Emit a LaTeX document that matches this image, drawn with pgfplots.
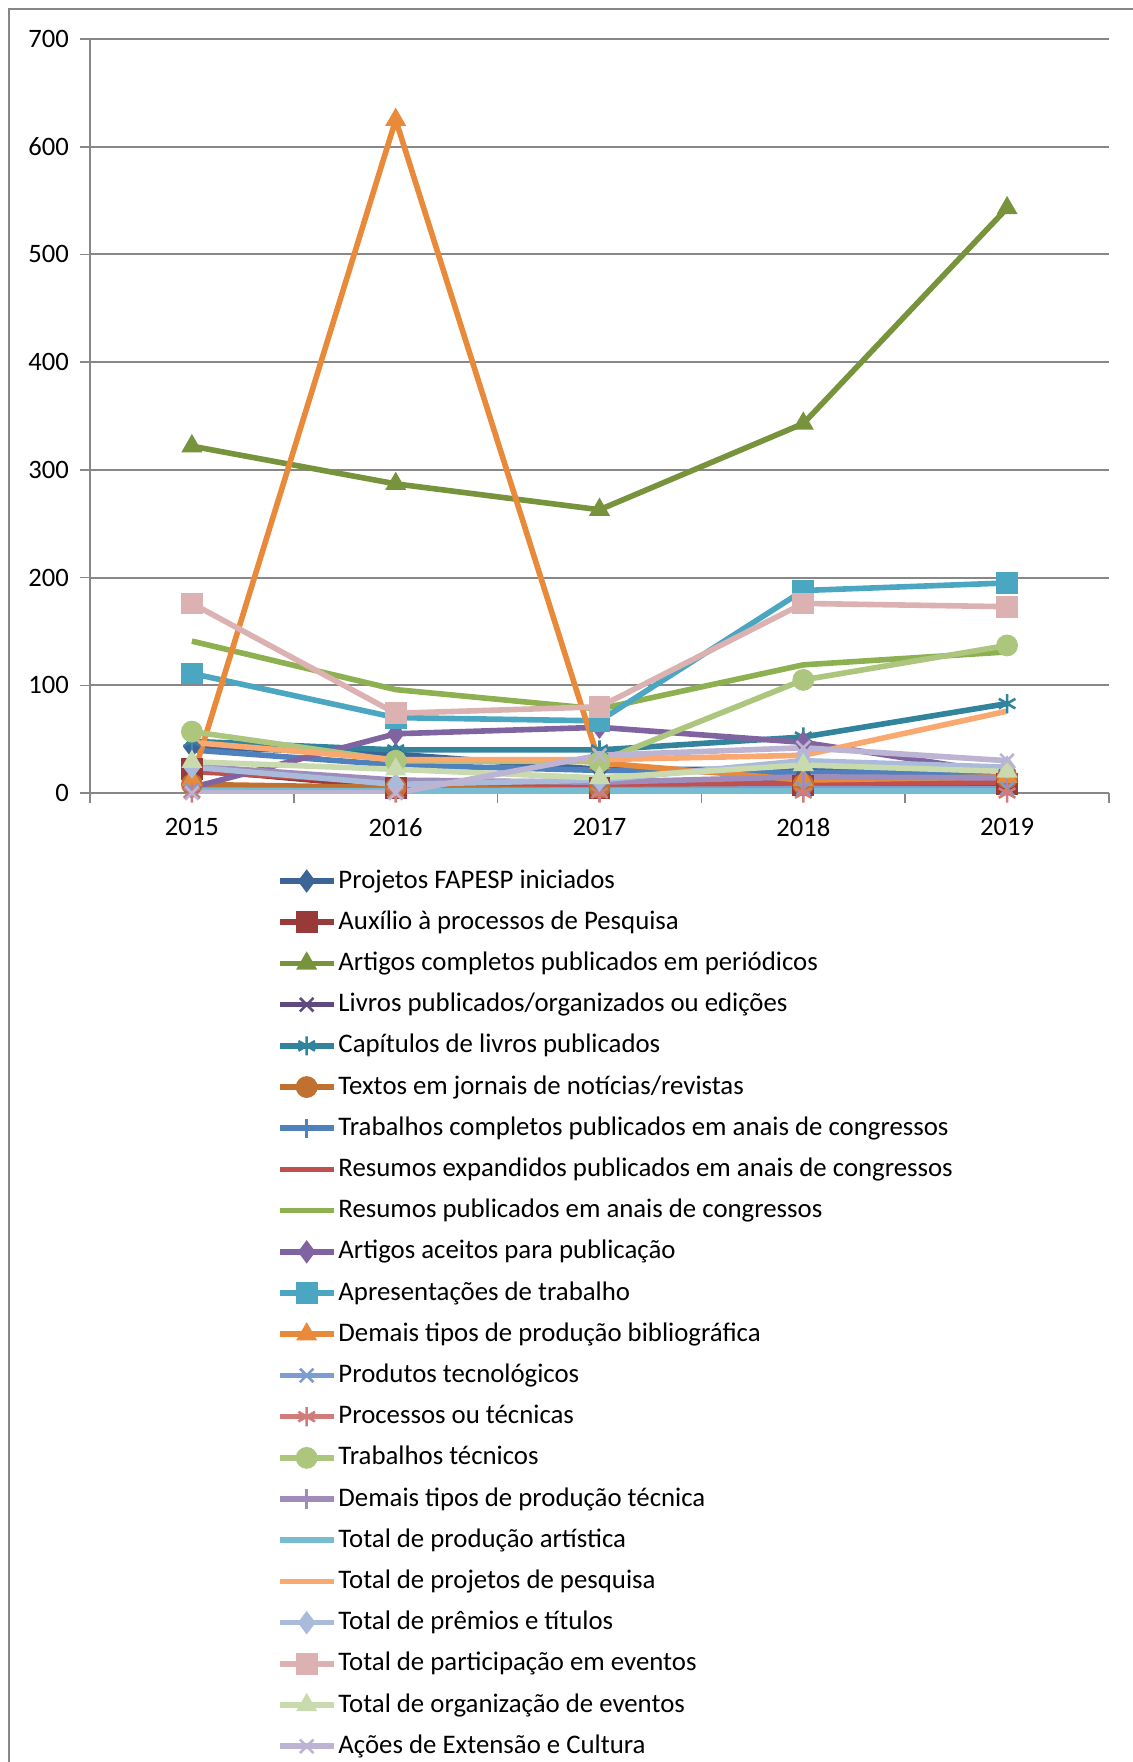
\documentclass[border=0pt]{standalone}
\usepackage{pgfplots}
\pgfplotsset{compat=1.18}
\usepackage{fontspec}
\setmainfont{Carlito}

% Excel 2007 palette, dark / normal / light variants
\definecolor{c1}{HTML}{3C6497}
\definecolor{c2}{HTML}{983A37}
\definecolor{c3}{HTML}{77933C}
\definecolor{c4}{HTML}{5F4A7F}
\definecolor{c5}{HTML}{31849B}
\definecolor{c6}{HTML}{C0712F}
\definecolor{c7}{HTML}{4F81BD}
\definecolor{c8}{HTML}{C0504D}
\definecolor{c9}{HTML}{8DB050}
\definecolor{c10}{HTML}{8064A2}
\definecolor{c11}{HTML}{4BA6C2}
\definecolor{c12}{HTML}{E98A3A}
\definecolor{c13}{HTML}{7B9DD0}
\definecolor{c14}{HTML}{D07C7A}
\definecolor{c15}{HTML}{ADC67E}
\definecolor{c16}{HTML}{9E8CBA}
\definecolor{c17}{HTML}{78BCD2}
\definecolor{c18}{HTML}{F9A870}
\definecolor{c19}{HTML}{A9BADB}
\definecolor{c20}{HTML}{DBB2B1}
\definecolor{c21}{HTML}{C9DAAE}
\definecolor{c22}{HTML}{BDB3D2}
\definecolor{gridgray}{HTML}{878787}

\begin{document}
\begin{tikzpicture}
\begin{axis}[
    scale only axis,
    width=509.5pt, height=377pt,
    xmin=2014.5, xmax=2019.5,
    ymin=0, ymax=700,
    xtick={2015,2016,2017,2018,2019},
    xticklabels={2015,2016,2017,2018,2019},
    minor xtick={2014.5,2015.5,2016.5,2017.5,2018.5,2019.5},
    ytick={0,100,...,700},
    major x tick style={draw=none},
    minor tick length=5pt,
    major tick length=5pt,
    tick align=outside,
    tick style={gridgray, line width=0.8pt},
    axis lines*=left,
    axis line style={gridgray, line width=0.8pt, -},
    ymajorgrids,
    grid style={gridgray, line width=1pt},
    ticklabel style={font=\fontsize{13.3}{16}\selectfont},
    /pgf/number format/assume math mode=true,
    yticklabel style={xshift=-2pt},
    xticklabel style={yshift=-4pt},
    every axis plot/.append style={line width=2.8pt, mark size=4.8pt,
        mark options={solid, line width=1.3pt}},
    legend cell align=left,
    legend style={at={(0.1830,-0.099)}, anchor=north west, draw=none,
        fill=none, inner sep=0pt, row sep=7.6pt,
        font=\fontsize{13.4}{16}\selectfont,
        nodes={inner sep=0pt, inner xsep=1pt, text height=10pt, text depth=3pt}},
    legend image code/.code={
        \draw[mark repeat=2, mark phase=2] plot coordinates {(0pt,0pt) (13.5pt,0pt) (27pt,0pt)};
    },
]
\addplot[c1, mark=diamond*] coordinates {(2015,43) (2016,36) (2017,22) (2018,22) (2019,21)};
\addlegendentry{Projetos FAPESP iniciados}
\addplot[c2, mark=square*] coordinates {(2015,22) (2016,5) (2017,5) (2018,7) (2019,8)};
\addlegendentry{Auxílio à processos de Pesquisa}
\addplot[c3, mark=triangle*] coordinates {(2015,322) (2016,287) (2017,263) (2018,343) (2019,543)};
\addlegendentry{Artigos completos publicados em periódicos}
\addplot[c4, mark=x] coordinates {(2015,2) (2016,3) (2017,7) (2018,12) (2019,14)};
\addlegendentry{Livros publicados/organizados ou edições}
\addplot[c5, mark=asterisk] coordinates {(2015,48) (2016,40) (2017,40) (2018,52) (2019,83)};
\addlegendentry{Capítulos de livros publicados}
\addplot[c6, mark=*] coordinates {(2015,8) (2016,5) (2017,5) (2018,8) (2019,14)};
\addlegendentry{Textos em jornais de notícias/revistas}
\addplot[c7, mark=|] coordinates {(2015,40) (2016,26) (2017,21) (2018,19) (2019,19)};
\addlegendentry{Trabalhos completos publicados em anais de congressos}
\addplot[c8] coordinates {(2015,20) (2016,10) (2017,8) (2018,9) (2019,10)};
\addlegendentry{Resumos expandidos publicados em anais de congressos}
\addplot[c9] coordinates {(2015,141) (2016,96) (2017,78) (2018,119) (2019,131)};
\addlegendentry{Resumos publicados em anais de congressos}
\addplot[c10, mark=diamond*] coordinates {(2015,5) (2016,55) (2017,61) (2018,47) (2019,18)};
\addlegendentry{Artigos aceitos para publicação}
\addplot[c11, mark=square*] coordinates {(2015,111) (2016,70) (2017,67) (2018,188) (2019,195)};
\addlegendentry{Apresentações de trabalho}
\addplot[c12, mark=triangle*] coordinates {(2015,12) (2016,625) (2017,28) (2018,12) (2019,15)};
\addlegendentry{Demais tipos de produção bibliográfica}
\addplot[c13, mark=x] coordinates {(2015,3) (2016,2) (2017,3) (2018,4) (2019,4)};
\addlegendentry{Produtos tecnológicos}
\addplot[c14, mark=asterisk] coordinates {(2015,0) (2016,0) (2017,0) (2018,0) (2019,0)};
\addlegendentry{Processos ou técnicas}
\addplot[c15, mark=*] coordinates {(2015,57) (2016,30) (2017,29) (2018,105) (2019,137)};
\addlegendentry{Trabalhos técnicos}
\addplot[c16, mark=|] coordinates {(2015,25) (2016,12) (2017,10) (2018,15) (2019,14)};
\addlegendentry{Demais tipos de produção técnica}
\addplot[c17] coordinates {(2015,2) (2016,2) (2017,2) (2018,2) (2019,2)};
\addlegendentry{Total de produção artística}
\addplot[c18] coordinates {(2015,47) (2016,31) (2017,31) (2018,35) (2019,76)};
\addlegendentry{Total de projetos de pesquisa}
\addplot[c19, mark=diamond*] coordinates {(2015,24) (2016,8) (2017,12) (2018,30) (2019,24)};
\addlegendentry{Total de prêmios e títulos}
\addplot[c20, mark=square*] coordinates {(2015,176) (2016,74) (2017,80) (2018,176) (2019,173)};
\addlegendentry{Total de participação em eventos}
\addplot[c21, mark=triangle*] coordinates {(2015,29) (2016,22) (2017,14) (2018,26) (2019,20)};
\addlegendentry{Total de organização de eventos}
\addplot[c22, mark=x] coordinates {(2015,0) (2016,0) (2017,35) (2018,42) (2019,30)};
\addlegendentry{Ações de Extensão e Cultura}
\end{axis}
\draw[gridgray, line width=1pt] (-40.5pt,-500pt) -- (-40.5pt,392pt) -- (540pt,392pt);
\pgfresetboundingbox
\useasboundingbox (-45pt,-484.5pt) rectangle (521pt,396.5pt);
\end{tikzpicture}
\end{document}
